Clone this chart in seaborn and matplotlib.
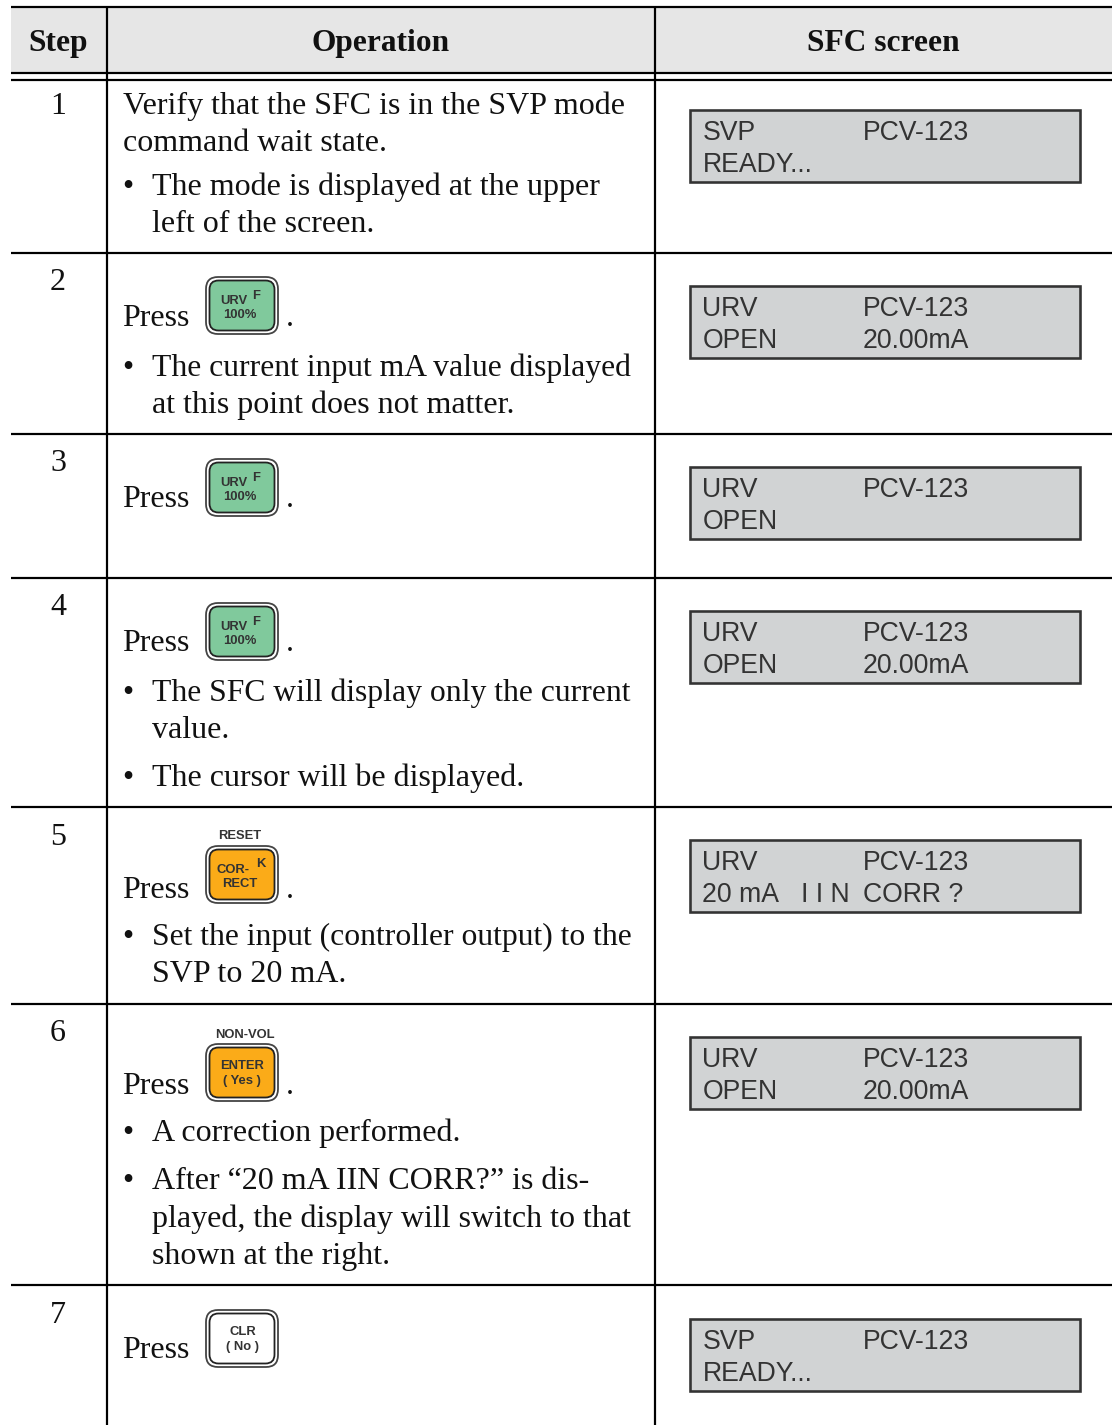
import matplotlib
matplotlib.use("Agg")
import matplotlib.pyplot as plt
from matplotlib.patches import FancyBboxPatch, Rectangle
import seaborn as sns

# table content
headers = ["Step", "Operation", "SFC screen"]
steps = ["1", "2", "3", "4", "5", "6", "7"]
row_rules = [253, 434, 578, 807, 1004, 1285]
step_baselines = [114, 290, 471, 615, 845, 1041, 1323]

# (text, baseline, is_bullet)
op_lines = [
    ("Verify that the SFC is in the SVP mode", 114, False),
    ("command wait state.", 151, False),
    ("The mode is displayed at the upper", 195, True),
    ("left of the screen.", 232, None),
    ("The current input mA value displayed", 376, True),
    ("at this point does not matter.", 413, None),
    ("The SFC will display only the current", 701, True),
    ("value.", 738, None),
    ("The cursor will be displayed.", 786, True),
    ("Set the input (controller output) to the", 945, True),
    ("SVP to 20 mA.", 982, None),
    ("A correction performed.", 1141, True),
    ("After \u201c20 mA IIN CORR?\u201d is dis-", 1189, True),
    ("played, the display will switch to that", 1227, None),
    ("shown at the right.", 1264, None),
]
# lines the original typesetting ran slightly tighter
tight_lines = ["The current input mA value displayed", "The SFC will display only the current",
               "Set the input (controller output) to the"]
press_baselines = [326, 507, 651, 898, 1094, 1358]

screen_tops = [110, 286, 467, 611, 840, 1037, 1319]
screen_line1 = ["SVP", "URV", "URV", "URV", "URV", "URV", "SVP"]
screen_line2 = ["READY...", "OPEN", "OPEN", "OPEN", "20 mA", "OPEN", "READY..."]
screen_mid2 = ["", "", "", "", "I I N", "", ""]
screen_right1 = ["PCV-123"] * 7
screen_right2 = ["", "20.00mA", "", "20.00mA", "CORR ?", "20.00mA", ""]

green = "#80c99c"
orange = "#fbab18"
# (top, fill, labels: text, dx, dy)
keys = [
    (276, green, [("URV", 29, 25), ("F", 51, 20), ("100%", 35, 39)]),
    (458, green, [("URV", 29, 25), ("F", 51, 20), ("100%", 35, 39)]),
    (602, green, [("URV", 29, 25), ("F", 51, 20), ("100%", 35, 39)]),
    (845, orange, [("COR-", 28, 25), ("K", 56, 19), ("RECT", 35, 39), ("RESET", 35, -9)]),
    (1043, orange, [("ENTER", 37, 23), ("( Yes )", 37, 38), ("NON-VOL", 40, -8)]),
    (1309, "white", [("CLR", 38, 23), ("( No )", 38, 38)]),
]

sns.set_theme(style="white")
serif = "Liberation Serif"
sans = "Liberation Sans"

fig, ax = plt.subplots(figsize=(11.17, 14.25), dpi=100)
ax.set_position([0, 0, 1, 1])
ax.set_xlim(0, 1117)
ax.set_ylim(1425, 0)
ax.axis("off")
sns.despine(ax=ax, left=True, bottom=True)

px = 0.72  # points per pixel at dpi 100
body = 23

# header band and rules
ax.add_patch(Rectangle((11, 7), 1101, 66, fc="#e6e6e6", ec="none", zorder=0))
ax.hlines([7, 73, 80] + row_rules, 11, 1112, color="black", lw=2.2 * px, zorder=2)
ax.vlines([107, 655], 7, 1425, color="black", lw=2.2 * px, zorder=2)

for label, x in zip(headers, [58, 381, 883]):
    ax.text(x, 50.5, label, family=serif, weight="bold", size=22.6, ha="center", va="baseline", color="#111111")

for s, y in zip(steps, step_baselines):
    ax.text(58, y, s, family=serif, size=body, ha="center", va="baseline", color="#111111")

for text, y, bullet in op_lines:
    x = 123 if bullet is False else 152
    size = 22.8 if text in tight_lines else body
    ax.text(x, y, text, family=serif, size=size, va="baseline", color="#111111")
    if bullet:
        ax.text(122.5, y, "\u2022", family=serif, size=body, va="baseline", color="#111111")

for y in press_baselines:
    ax.text(122.5, y, "Press", family=serif, size=body, va="baseline", color="#111111")
for y in press_baselines[:-1]:
    ax.text(285.5, y, ".", family=serif, size=body, va="baseline", color="#111111")

# LCD screens
for i, top in enumerate(screen_tops):
    ax.add_patch(Rectangle((690, top), 390, 72, fc="#d1d3d4", ec="#333333", lw=2.6 * px, zorder=1))
    for x, dy, txt in [(702.5, 30, screen_line1[i]), (863, 30, screen_right1[i]),
                       (702.5, 62, screen_line2[i]), (801, 62, screen_mid2[i]),
                       (863, 62, screen_right2[i])]:
        ax.text(x, top + dy, txt, family=sans, size=19.2, va="baseline", color="#333333")

# keypad buttons
for top, fill, labels in keys:
    ax.add_patch(FancyBboxPatch((206, top + 1), 72, 57, boxstyle="round,pad=0,rounding_size=12",
                                fc="white", ec="#444444", lw=1.8 * px, zorder=1))
    ax.add_patch(FancyBboxPatch((209.5, top + 4.5), 65, 50, boxstyle="round,pad=0,rounding_size=9",
                                fc=fill, ec="#222222", lw=1.8 * px, zorder=1))
    for txt, dx, dy in labels:
        ax.text(205 + dx, top + dy, txt, family=sans, weight="bold", size=9.4, ha="center", va="center",
                color="#333333", zorder=3)

plt.savefig("out.png", dpi=100)
